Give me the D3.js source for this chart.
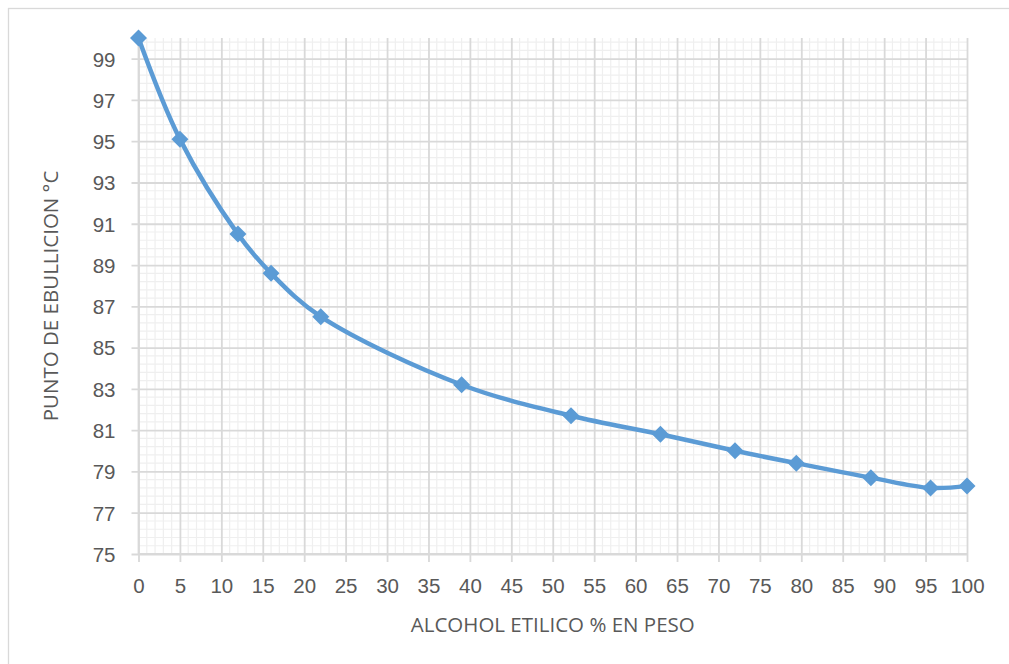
<!DOCTYPE html>
<html>
<head>
<meta charset="utf-8">
<script src="https://cdn.jsdelivr.net/npm/d3@7/dist/d3.min.js"></script>
<style>
  html, body { margin: 0; padding: 0; background: #fff; }
  svg { display: block; font-family: "Open Sans", "Noto Sans", sans-serif; }
</style>
</head>
<body>
<svg id="chart" width="1009" height="664"></svg>
<script>
// Ethanol concentration (% by weight) vs. boiling point (°C)
const alcoholPct = [0, 5, 12, 16, 22, 39, 52.2, 63, 72, 79.4, 88.4, 95.6, 100];
const boilingC   = [100, 95.1, 90.5, 88.6, 86.5, 83.2, 81.7, 80.8, 80.0, 79.4, 78.7, 78.2, 78.3];

const xTicks = [0, 5, 10, 15, 20, 25, 30, 35, 40, 45, 50, 55, 60, 65, 70, 75, 80, 85, 90, 95, 100];
const yTicks = [75, 77, 79, 81, 83, 85, 87, 89, 91, 93, 95, 97, 99];

const xTitle = "ALCOHOL ETILICO % EN PESO";
const yTitle = "PUNTO DE EBULLICION °C";

const W = 1009, H = 664;
const plot = { left: 138.5, right: 967, top: 38, bottom: 554 };
const fontSize = 20.5;

const svg = d3.select("#chart");
const textColor = "#595959";
const majorGrid = "#d9d9d9";
const minorGrid = "#efefef";
const lineColor = "#5b9bd5";

// Chart frame (right and bottom edges fall outside the view)
svg.append("rect")
  .attr("x", 8.5).attr("y", 8.5)
  .attr("width", W + 20).attr("height", H + 20)
  .attr("fill", "#fff").attr("stroke", "#d9d9d9").attr("stroke-width", 1.3);

const x = d3.scaleLinear().domain([0, 100]).range([plot.left, plot.right]);
const y = d3.scaleLinear().domain([75, 100]).range([plot.bottom, plot.top]);

// Minor gridlines: every 1 % on x, every 0.4 °C on y
const xMinor = d3.range(0, 101, 1).filter(v => v % 5 !== 0);
const yMinor = d3.range(75.4, 100, 0.4).filter(v => Math.abs((v - 75) / 2 - Math.round((v - 75) / 2)) > 1e-6);

const g = svg.append("g");
g.selectAll("line.xminor").data(xMinor).join("line")
  .attr("x1", d => x(d)).attr("x2", d => x(d))
  .attr("y1", plot.top).attr("y2", plot.bottom)
  .attr("stroke", minorGrid).attr("stroke-width", 1.2);
g.selectAll("line.yminor").data(yMinor).join("line")
  .attr("y1", d => y(d)).attr("y2", d => y(d))
  .attr("x1", plot.left).attr("x2", plot.right)
  .attr("stroke", minorGrid).attr("stroke-width", 1.2);

// Major gridlines and tick labels via axes
const xAxis = d3.axisBottom(x).tickValues(xTicks)
  .tickSize(plot.bottom - plot.top + 8).tickPadding(16).tickFormat(d3.format("d"));
const yAxis = d3.axisLeft(y).tickValues(yTicks)
  .tickSize(plot.right - plot.left + 7).tickPadding(16).tickFormat(d3.format("d"));

const gx = svg.append("g").attr("transform", `translate(0,${plot.top})`).call(xAxis);
const gy = svg.append("g").attr("transform", `translate(${plot.right},0)`).call(yAxis);

[gx, gy].forEach(ax => {
  ax.select(".domain").remove();
  ax.selectAll(".tick line").attr("stroke", majorGrid).attr("stroke-width", 1.8);
  ax.selectAll(".tick text").attr("fill", textColor).attr("font-size", fontSize);
});
gy.selectAll(".tick text").attr("dy", "0.36em");

// Axis base lines
svg.append("line")
  .attr("x1", plot.left).attr("x2", plot.right)
  .attr("y1", plot.bottom).attr("y2", plot.bottom)
  .attr("stroke", majorGrid).attr("stroke-width", 1.8);
svg.append("line")
  .attr("x1", plot.left).attr("x2", plot.left)
  .attr("y1", plot.top).attr("y2", plot.bottom)
  .attr("stroke", majorGrid).attr("stroke-width", 1.8);

// Axis titles
svg.append("text")
  .attr("x", (plot.left + plot.right) / 2).attr("y", 632)
  .attr("text-anchor", "middle").attr("fill", textColor).attr("font-size", fontSize)
  .text(xTitle);
svg.append("text")
  .attr("transform", `translate(58,${(plot.top + plot.bottom) / 2}) rotate(-90)`)
  .attr("text-anchor", "middle").attr("fill", textColor).attr("font-size", fontSize)
  .text(yTitle);

// Smoothed series line
const pts = alcoholPct.map((v, i) => [v, boilingC[i]]);
const line = d3.line().x(d => x(d[0])).y(d => y(d[1])).curve(d3.curveCatmullRom.alpha(0.5));
svg.append("path").datum(pts)
  .attr("d", line)
  .attr("fill", "none").attr("stroke", lineColor)
  .attr("stroke-width", 4.5).attr("stroke-linejoin", "round").attr("stroke-linecap", "round");

// Diamond markers
const r = 8.5;
svg.selectAll("path.marker").data(pts).join("path")
  .attr("class", "marker")
  .attr("d", d => `M${x(d[0])},${y(d[1]) - r}L${x(d[0]) + r},${y(d[1])}L${x(d[0])},${y(d[1]) + r}L${x(d[0]) - r},${y(d[1])}Z`)
  .attr("fill", lineColor);
</script>
</body>
</html>
